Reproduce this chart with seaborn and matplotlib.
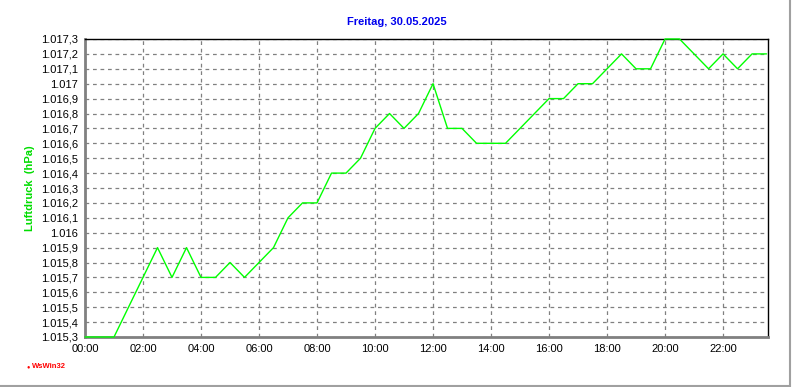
import numpy as np
import pandas as pd
import matplotlib
matplotlib.use("Agg")
import matplotlib.pyplot as plt
import seaborn as sns
from matplotlib.ticker import FixedLocator, FixedFormatter, MultipleLocator
from matplotlib.lines import Line2D

hours = [i * 0.5 for i in range(48)]
pressure = [
    1015.3, 1015.3, 1015.3, 1015.5, 1015.7, 1015.9, 1015.7, 1015.9,
    1015.7, 1015.7, 1015.8, 1015.7, 1015.8, 1015.9, 1016.1, 1016.2,
    1016.2, 1016.4, 1016.4, 1016.5, 1016.7, 1016.8, 1016.7, 1016.8,
    1017.0, 1016.7, 1016.7, 1016.6, 1016.6, 1016.6, 1016.7, 1016.8,
    1016.9, 1016.9, 1017.0, 1017.0, 1017.1, 1017.2, 1017.1, 1017.1,
    1017.3, 1017.3, 1017.2, 1017.1, 1017.2, 1017.1, 1017.2, 1017.2,
]
x_ticks = [0, 2, 4, 6, 8, 10, 12, 14, 16, 18, 20, 22]
x_labels = ["00:00", "02:00", "04:00", "06:00", "08:00", "10:00",
            "12:00", "14:00", "16:00", "18:00", "20:00", "22:00"]
y_ticks = [1015.3, 1015.4, 1015.5, 1015.6, 1015.7, 1015.8, 1015.9, 1016.0,
           1016.1, 1016.2, 1016.3, 1016.4, 1016.5, 1016.6, 1016.7, 1016.8,
           1016.9, 1017.0, 1017.1, 1017.2, 1017.3]
y_labels = ["1.015,3", "1.015,4", "1.015,5", "1.015,6", "1.015,7", "1.015,8",
            "1.015,9", "1.016", "1.016,1", "1.016,2", "1.016,3", "1.016,4",
            "1.016,5", "1.016,6", "1.016,7", "1.016,8", "1.016,9", "1.017",
            "1.017,1", "1.017,2", "1.017,3"]
title = "Freitag, 30.05.2025"
ylabel = "Luftdruck  (hPa)"

df = pd.DataFrame({"h": hours, "p": pressure})

sns.set_theme(style="white")
plt.rcParams["font.family"] = ["Liberation Sans", "DejaVu Sans"]

fig = plt.figure(figsize=(7.92, 3.87), dpi=100)
fig.patch.set_facecolor("white")
ax = fig.add_axes([85 / 792, 50 / 387, (768 - 85) / 792, (337 - 39) / 387])

sns.lineplot(data=df, x="h", y="p", ax=ax, color="#00ff00", linewidth=1.0)
for ln in ax.get_lines():
    ln.set_zorder(5)
    ln.set_clip_on(False)

ax.set_xlim(0, 23.55)
ax.set_ylim(1015.3, 1017.3)
ax.xaxis.set_major_locator(FixedLocator(x_ticks))
ax.xaxis.set_major_formatter(FixedFormatter(x_labels))
ax.xaxis.set_minor_locator(MultipleLocator(0.5))
ax.yaxis.set_major_locator(FixedLocator(y_ticks))
ax.yaxis.set_major_formatter(FixedFormatter(y_labels))

ax.tick_params(axis="both", which="major", labelsize=8, colors="#808080",
               labelcolor="black", length=3, width=1, direction="out", pad=2)
ax.tick_params(axis="x", which="minor", length=3, width=1, color="#808080",
               direction="out")
ax.grid(True, which="major", color="#808080", linestyle=(0, (3, 3)), linewidth=0.9)

for s in ["left", "bottom"]:
    ax.spines[s].set_color("#808080")
    ax.spines[s].set_linewidth(2)
    ax.spines[s].set_zorder(2)
for s in ["top", "right"]:
    ax.spines[s].set_color("black")
    ax.spines[s].set_linewidth(1)
    ax.spines[s].set_zorder(2)

ax.set_xlabel("")
ax.set_ylabel(ylabel, color="#00dd00", fontsize=8, fontweight="bold")
ax.yaxis.set_label_coords(-0.073, 0.5)
fig.text(397 / 792, 1 - 22 / 387, title, color="#0000ee", fontsize=8,
         fontweight="bold", ha="center", va="center")
fig.text(32 / 792, 1 - 367 / 387, "WsWin32", color="#ff0000", fontsize=5.5,
         fontweight="bold", ha="left", va="center")
fig.text(26.5 / 792, 1 - 366.5 / 387, "\u25cf", color="#ff0000", fontsize=4,
         ha="left", va="center")

# panel border
fig.add_artist(Line2D([789.5 / 792, 789.5 / 792], [0, 1], transform=fig.transFigure,
                      color="#a0a0a0", linewidth=1.5))
fig.add_artist(Line2D([0, 790 / 792], [1.5 / 387, 1.5 / 387], transform=fig.transFigure,
                      color="#a0a0a0", linewidth=1.5))

fig.savefig("out.png", dpi=100)
